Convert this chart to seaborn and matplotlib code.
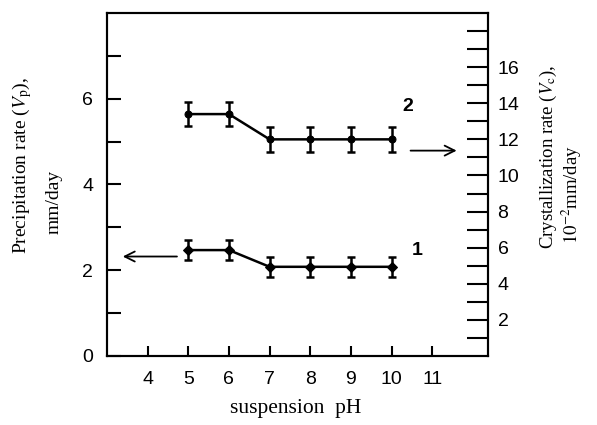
import matplotlib
matplotlib.use('Agg')
import matplotlib.pyplot as plt
import seaborn as sns
import numpy as np

# data
ph = [5, 6, 7, 8, 9, 10]
vp = [2.47, 2.47, 2.08, 2.08, 2.08, 2.08]        # curve 1, left axis (mm/day)
vp_err = [0.24, 0.24, 0.23, 0.23, 0.23, 0.23]
vc = [13.4, 13.4, 12.0, 12.0, 12.0, 12.0]        # curve 2, right axis (1e-2 mm/day)
vc_err = [0.67, 0.67, 0.7, 0.7, 0.7, 0.7]

x_ticks = [4, 5, 6, 7, 8, 9, 10, 11]
left_ticks = [0, 1, 2, 3, 4, 5, 6, 7]
left_labels = ['0', '', '2', '', '4', '', '6', '']
right_ticks = list(range(1, 19))
right_labels = ['', '2', '', '4', '', '6', '', '8', '', '10', '', '12', '', '14', '', '16', '', '']

sns.set_style('ticks')
plt.rcParams['font.family'] = ['Liberation Sans', 'DejaVu Sans']
plt.rcParams['mathtext.fontset'] = 'stix'
for k in ['text.color', 'axes.labelcolor', 'xtick.color', 'ytick.color', 'axes.edgecolor']:
    plt.rcParams[k] = 'black'

fig = plt.figure(figsize=(5.97, 4.25), dpi=100)
ax = fig.add_axes([0.1792, 0.1624, 0.638, 0.807])
ax2 = ax.twinx()

# curve 1 on left axis
sns.lineplot(x=ph, y=vp, ax=ax, color='black', lw=1.8, marker='D',
             markersize=5, markeredgecolor='black')
ax.errorbar(ph, vp, yerr=vp_err, fmt='none', ecolor='black',
            elinewidth=1.8, capsize=3, capthick=1.8)

# curve 2 on right axis
sns.lineplot(x=ph, y=vc, ax=ax2, color='black', lw=1.8, marker='o',
             markersize=5, markeredgecolor='black')
ax2.errorbar(ph, vc, yerr=vc_err, fmt='none', ecolor='black',
             elinewidth=1.8, capsize=3, capthick=1.8)

ax.set_xlim(3, 12.37)
ax.set_ylim(0, 8)
ax2.set_ylim(0, 19)

ax.set_xticks(x_ticks)
ax.set_xticklabels([str(t) for t in x_ticks], fontsize=14)
ax.set_yticks(left_ticks)
ax.set_yticklabels(left_labels, fontsize=14)
ax2.set_yticks(right_ticks)
ax2.set_yticklabels(right_labels, fontsize=14)

ax.tick_params(axis='x', direction='in', length=7, width=1.5, pad=11)
ax.tick_params(axis='y', direction='in', length=10, width=1.5, pad=10)
ax2.tick_params(axis='y', direction='in', length=15, width=1.5, pad=7)
for a in (ax, ax2):
    for s in a.spines.values():
        s.set_linewidth(1.5)
        s.set_visible(True)
ax.set_xlabel('')
ax.set_ylabel('')
ax2.set_ylabel('')

# arrows pointing to the axes
ax.annotate('', xy=(3.32, 2.32), xytext=(4.79, 2.32),
            arrowprops=dict(arrowstyle='->', lw=1.3, color='black', mutation_scale=18))
ax.annotate('', xy=(11.67, 4.79), xytext=(10.4, 4.79),
            arrowprops=dict(arrowstyle='->', lw=1.3, color='black', mutation_scale=18))

ax.text(10.64, 2.47, '1', fontsize=14, fontweight='bold', ha='center', va='center')
ax.text(10.4, 5.83, '2', fontsize=14, fontweight='bold', ha='center', va='center')

serif = ['Liberation Serif', 'DejaVu Serif']
fig.text(22 / 597, 1 - 166 / 425, 'Precipitation rate ($V_\\mathrm{p}$),', rotation=90,
         ha='center', va='center', family=serif, fontsize=14)
fig.text(54 / 597, 1 - 202 / 425, 'mm/day', rotation=90,
         ha='center', va='center', family=serif, fontsize=14)
fig.text(548 / 597, 1 - 157 / 425, 'Crystallization rate ($V_\\mathrm{c}$),', rotation=90,
         ha='center', va='center', family=serif, fontsize=13.5)
fig.text(572 / 597, 1 - 195 / 425, '$10^{-2}$mm/day', rotation=90,
         ha='center', va='center', family=serif, fontsize=13.5)
fig.text(296 / 597, 1 - 409 / 425, 'suspension  pH',
         ha='center', va='center', family=serif, fontsize=15.5)

fig.savefig('out.png', dpi=100)
